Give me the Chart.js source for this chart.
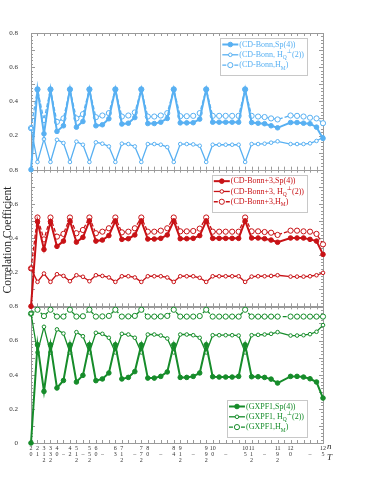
<!DOCTYPE html>
<html>
<head>
<meta charset="utf-8">
<script src="https://cdn.jsdelivr.net/npm/chart.js@4.4.0/dist/chart.umd.min.js"></script>
<style>
  html, body { margin: 0; padding: 0; background: #fff; }
</style>
</head>
<body>
<canvas id="corrChart" width="371" height="480"></canvas>
<script>
// x categories: n on the first line, T below (half-integer T as numerator / denominator)
const xLabels = [
  ['2', '0'], ['2', '1'], ['3', '1', '2'], ['3', '3', '2'], ['4', '0'], ['', '–'], ['4', '2'],
  ['5', '1', '2'], ['', '–'], ['5', '5', '2'], ['6', '0'], ['', '–'], '', ['6', '3'],
  ['7', '1', '2'], '', ['', '–'], ['7', '7', '2'], ['8', '0'], '', ['', '–'], '', ['8', '4'],
  ['9', '1', '2'], '', ['', '–'], '', ['9', '9', '2'], ['10', '0'], '', ['', '–'], '', '', ['10', '5'],
  ['11', '1', '2'], '', ['', '–'], '', ['11', '9', '2'], '', ['12', '0'], '', '', ['', '–'], '', ['12', '5']
]

const bonnSp4 = [0, .47, .21, .47, .224, .257, .47, .249, .282, .47, .257, .263, .298, .47, .267, .272, .305, .47,
  .27, .27, .278, .30, .47, .274, .274, .275, .296, .47, .278, .278, .278, .278, .278, .47,
  .276, .272, .269, .257, .245, null, .276, .276, .272, .269, .249, .183]
const bonnHQ = [.243, .045, .179, .045, .175, .156, .045, .164, .146, .045, .16, .152, .136, .045, .152, .15, .136, .045,
  .15, .15, .146, .132, .045, .15, .15, .148, .14, .045, .146, .146, .146, .146, .146, .045,
  .15, .15, .152, .158, .166, null, .15, .15, .15, .154, .168, .19]
const bonnHM = [.243, .47, .29, .47, .28, .30, .47, .30, .325, .47, .307, .317, .331, .47, .311, .317, .335, .47,
  .311, .311, .317, .331, .47, .313, .313, .315, .331, .47, .315, .315, .315, .315, .315, .47,
  .315, .311, .308, .30, .294, null, .317, .315, .311, .304, .30, .272]

const bonn3Sp4 = [0, .496, .333, .496, .351, .382, .50, .376, .404, .50, .382, .388, .414, .50, .392, .396, .418, .50,
  .394, .394, .398, .418, .50, .396, .396, .398, .414, .50, .398, .398, .398, .398, .398, .50,
  .40, .40, .396, .388, .375, null, .40, .40, .40, .392, .382, .304]
const bonn3HQ = [.222, .143, .192, .143, .188, .178, .147, .182, .173, .147, .182, .178, .169, .143, .176, .176, .169, .143,
  .176, .176, .176, .169, .143, .176, .176, .176, .167, .143, .176, .176, .176, .176, .176, .143,
  .174, .176, .176, .178, .182, null, .174, .174, .174, .176, .182, .196]
const bonn3HM = [.222, .52, .392, .52, .408, .424, .52, .428, .447, .52, .428, .437, .457, .52, .433, .437, .457, .52,
  .437, .437, .443, .457, .52, .439, .439, .441, .455, .52, .437, .437, .437, .437, .437, .52,
  .439, .439, .435, .431, .418, null, .443, .443, .439, .437, .424, .363]

const gxpfSp4 = [0, .575, .302, .575, .322, .366, .575, .357, .396, .575, .365, .375, .41, .575, .375, .384, .418, .575,
  .38, .38, .39, .416, .575, .384, .384, .39, .41, .575, .388, .386, .386, .386, .39, .575,
  .388, .388, .384, .374, .351, null, .39, .39, .386, .376, .357, .263]
const gxpfHQ = [.757, .53, .68, .53, .665, .641, .53, .649, .625, .53, .645, .639, .616, .53, .639, .635, .616, .53,
  .635, .635, .629, .612, .53, .635, .635, .631, .616, .53, .631, .631, .631, .631, .629, .53,
  .631, .633, .635, .639, .649, null, .629, .629, .631, .637, .651, .69]
const gxpfHM = [.757, .78, .743, .78, .74, .74, .78, .74, .742, .78, .74, .741, .744, .78, .74, .741, .744, .78,
  .74, .74, .741, .744, .78, .74, .74, .74, .743, .78, .74, .74, .74, .74, .74, .78,
  .74, .74, .74, .74, .74, null, .74, .74, .74, .74, .74, .74]

const serif = "'Liberation Serif', 'DejaVu Serif', serif"
const blue = 'rgb(88,176,242)'
const red = 'rgb(200,18,22)'
const green = 'rgb(22,140,42)'

// kind: 0 = Sp(4) filled, 1 = H_Q open small, 2 = H_M open dashed
function makeSet(label, values, color, kind, axis) {
  return {
    label: label,
    data: values,
    yAxisID: axis,
    borderColor: color,
    backgroundColor: kind == 0 ? color : '#fff',
    pointBorderColor: color,
    pointBackgroundColor: kind == 0 ? color : '#fff',
    borderWidth: kind == 0 ? 2 : 1.3,
    borderDash: kind == 2 ? [4, 2] : [],
    pointRadius: kind == 0 ? 2.3 : (kind == 1 ? 1.8 : 2.6),
    pointBorderWidth: 1,
    spanGaps: true,
    clip: false,
    tension: 0
  }
}

const panels = [
  { axis: 'yB', tag: 'CD-Bonn', color: blue, top: 5 },
  { axis: 'yR', tag: 'CD-Bonn+3', color: red, top: 5 },
  { axis: 'yG', tag: 'GXPF1', color: green, bottom: 6 }
]

function legendRows(tag) {
  return [
    [{ t: '(' + tag + ',Sp(4))' }],
    [{ t: '(' + tag + ', H' }, { t: 'Q', sub: true }, { t: '⊥', sup: true }, { t: '(2))' }],
    [{ t: '(' + tag + ',H' }, { t: 'M', sub: true }, { t: ')' }]
  ]
}

function drawMarker(ctx, x, y, kind, color) {
  ctx.beginPath()
  ctx.arc(x, y, kind == 0 ? 2.3 : (kind == 1 ? 1.8 : 2.6), 0, Math.PI * 2)
  ctx.fillStyle = kind == 0 ? color : '#fff'
  ctx.fill()
  ctx.lineWidth = 1
  ctx.setLineDash([])
  ctx.strokeStyle = color
  ctx.stroke()
}

function partFont(p) {
  return (p.sub || p.sup ? '5.5px ' : '8px ') + serif
}

function textWidth(ctx, parts) {
  let w = 0
  parts.forEach((p) => {
    ctx.font = partFont(p)
    w += ctx.measureText(p.t).width
  })
  return w
}

const panelFrames = {
  id: 'panelFrames',
  beforeDatasetsDraw(chart) {
    const { ctx, chartArea: a, scales } = chart
    const xs = scales.x
    ctx.save()
    ctx.strokeStyle = '#9a9a9a'
    ctx.lineWidth = 1
    panels.forEach((p) => {
      const s = scales[p.axis]
      ctx.strokeRect(Math.round(a.left) + 0.5, Math.round(s.top) + 0.5, Math.round(a.right - a.left), Math.round(s.bottom - s.top))
      ctx.beginPath()
      for (let k = 0; k <= 40; k++) {
        const y = Math.round(s.getPixelForValue(k * 0.02)) + 0.5
        const len = k % 5 == 0 ? 4 : 2
        ctx.moveTo(a.left, y); ctx.lineTo(a.left + len, y)
        ctx.moveTo(a.right, y); ctx.lineTo(a.right - len, y)
      }
      for (let i = 0; i < xLabels.length; i++) {
        const x = Math.round(xs.getPixelForValue(i)) + 0.5
        ctx.moveTo(x, s.top); ctx.lineTo(x, s.top + 3)
        ctx.moveTo(x, s.bottom); ctx.lineTo(x, s.bottom - 3)
      }
      ctx.stroke()
    })
    ctx.restore()
  },
  afterDraw(chart) {
    const { ctx, chartArea: a, scales } = chart
    ctx.save()

    // legends, one per panel
    panels.forEach((p) => {
      const s = scales[p.axis]
      const rows = legendRows(p.tag)
      let maxW = 0
      rows.forEach((r) => { maxW = Math.max(maxW, textWidth(ctx, r)) })
      const w = 19 + maxW + 3
      const h = 37
      const right = a.right - 16
      const left = right - w
      const top = p.top !== undefined ? s.top + p.top : s.bottom - p.bottom - h
      ctx.fillStyle = '#fff'
      ctx.fillRect(left, top, w, h)
      ctx.strokeStyle = '#c8c8c8'
      ctx.lineWidth = 1
      ctx.setLineDash([])
      ctx.strokeRect(Math.round(left) + 0.5, Math.round(top) + 0.5, Math.round(w), h)
      rows.forEach((r, k) => {
        const y = top + 6.5 + k * 10.3
        ctx.beginPath()
        ctx.strokeStyle = p.color
        ctx.lineWidth = k == 0 ? 2 : 1.3
        ctx.setLineDash(k == 2 ? [4, 2] : [])
        ctx.moveTo(left + 2, y)
        ctx.lineTo(left + 18, y)
        ctx.stroke()
        drawMarker(ctx, left + 10, y, k, p.color)
        let x = left + 19
        ctx.fillStyle = p.color
        ctx.textBaseline = 'middle'
        ctx.textAlign = 'left'
        r.forEach((part) => {
          ctx.font = partFont(part)
          const dy = part.sub ? 3 : (part.sup ? -3 : 0)
          ctx.fillText(part.t, x, y + dy)
          x += ctx.measureText(part.t).width
        })
      })
    })

    // axis titles
    ctx.fillStyle = '#222'
    ctx.font = '11.5px ' + serif
    ctx.textAlign = 'center'
    ctx.textBaseline = 'middle'
    ctx.translate(8, (scales.yB.top + scales.yG.bottom) / 2 + 2)
    ctx.rotate(-Math.PI / 2)
    ctx.fillText('Correlation Coefficient', 0, 0)
    ctx.setTransform(1, 0, 0, 1, 0, 0)
    ctx.font = 'italic 9px ' + serif
    ctx.textAlign = 'left'
    ctx.fillText('n', a.right + 4, a.bottom + 4)
    ctx.fillText('T', a.right + 4, a.bottom + 15)
    ctx.restore()
  }
}

function panelAxis(zeroLabel) {
  return {
    type: 'linear',
    position: 'left',
    stack: 'panels',
    stackWeight: 1,
    min: 0,
    max: 0.8,
    grid: { display: false },
    border: { display: false },
    ticks: {
      stepSize: 0.1,
      padding: 5,
      color: '#333',
      font: { family: serif, size: 7 },
      callback: (v) => Math.abs(v) < 1e-9 ? zeroLabel : v.toFixed(1)
    },
    afterFit: (scale) => { scale.width = 31 }
  }
}

const config = {
  type: 'line',
  data: {
    labels: xLabels,
    datasets: [
      makeSet('(CD-Bonn,Sp(4))', bonnSp4, blue, 0, 'yB'),
      makeSet('(CD-Bonn, HQ(2))', bonnHQ, blue, 1, 'yB'),
      makeSet('(CD-Bonn,HM)', bonnHM, blue, 2, 'yB'),
      makeSet('(CD-Bonn+3,Sp(4))', bonn3Sp4, red, 0, 'yR'),
      makeSet('(CD-Bonn+3, HQ(2))', bonn3HQ, red, 1, 'yR'),
      makeSet('(CD-Bonn+3,HM)', bonn3HM, red, 2, 'yR'),
      makeSet('(GXPF1,Sp(4))', gxpfSp4, green, 0, 'yG'),
      makeSet('(GXPF1, HQ(2))', gxpfHQ, green, 1, 'yG'),
      makeSet('(GXPF1,HM)', gxpfHM, green, 2, 'yG')
    ]
  },
  plugins: [panelFrames],
  options: {
    responsive: false,
    animation: false,
    devicePixelRatio: 1,
    layout: { padding: { top: 33, right: 48, left: 0, bottom: 0 } },
    plugins: {
      legend: { display: false },
      tooltip: { enabled: false }
    },
    scales: {
      x: {
        type: 'category',
        grid: { display: false, drawTicks: false },
        border: { display: false },
        ticks: {
          autoSkip: false,
          maxRotation: 0,
          padding: 2,
          color: '#333',
          font: { family: serif, size: 6, lineHeight: 1 }
        },
        afterFit: (scale) => { scale.height = 37 }
      },
      // stacked panels are laid out bottom-up
      yG: panelAxis('0'),
      yR: panelAxis(''),
      yB: panelAxis('')
    }
  }
}

const corrChart = new Chart(document.getElementById('corrChart'), config)
</script>
</body>
</html>
